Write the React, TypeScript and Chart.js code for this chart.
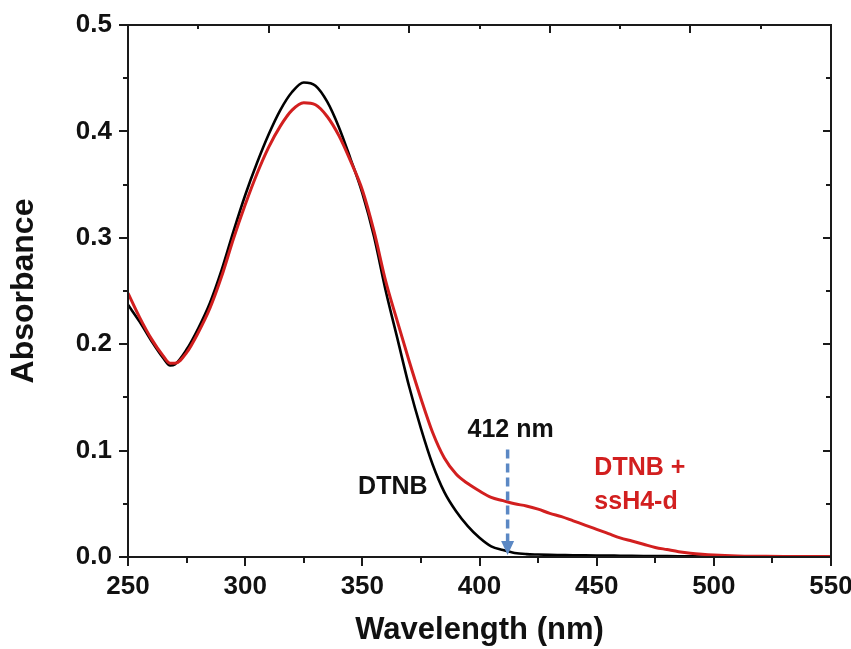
import React, { useEffect, useRef } from 'react';
import { Chart, registerables } from 'chart.js';

Chart.register(...registerables);

// ---- Data ----
const wavelengths = [
  250, 255, 260, 265, 268, 270, 275, 280, 285, 290, 295, 300, 305, 310, 315, 320, 325, 330, 335, 340,
  345, 350, 355, 360, 365, 370, 375, 380, 385, 390, 395, 400, 405, 410, 415, 420, 425, 430, 435, 440,
  445, 450, 455, 460, 465, 470, 475, 480, 485, 490, 495, 500, 510, 520, 530, 540, 550,
];

const dtnb = [
  0.237, 0.221, 0.203, 0.187, 0.180, 0.181, 0.195, 0.215, 0.239, 0.270, 0.306, 0.340, 0.370, 0.397, 0.420, 0.437, 0.446, 0.443, 0.428, 0.404,
  0.374, 0.342, 0.301, 0.250, 0.205, 0.160, 0.121, 0.087, 0.061, 0.043, 0.029, 0.018, 0.010, 0.0065, 0.0038, 0.0027, 0.0023, 0.0020, 0.0018, 0.0016,
  0.0015, 0.0014, 0.0013, 0.0012, 0.0011, 0.0010, 0.0009, 0.0008, 0.0007, 0.0006, 0.0005, 0.0005, 0.0004, 0.0004, 0.0003, 0.0003, 0.0003,
];

const dtnbSsh4d = [
  0.248, 0.225, 0.205, 0.189, 0.182, 0.182, 0.192, 0.211, 0.234, 0.264, 0.299, 0.331, 0.360, 0.385, 0.405, 0.420, 0.427, 0.425, 0.414, 0.396,
  0.372, 0.345, 0.306, 0.259, 0.221, 0.184, 0.149, 0.117, 0.093, 0.078, 0.069, 0.062, 0.056, 0.053, 0.050, 0.048, 0.045, 0.041, 0.038, 0.034,
  0.030, 0.026, 0.022, 0.018, 0.015, 0.012, 0.009, 0.007, 0.005, 0.0035, 0.0025, 0.0018, 0.0010, 0.0007, 0.0005, 0.0005, 0.0005,
];

const xMajorTicks = [250, 300, 350, 400, 450, 500, 550];
const xMinorTicks = [275, 325, 375, 425, 475, 525];
const topMajorTicks = [310, 370, 430, 490];
const topMinorTicks = [280, 340, 400, 460, 520];
const yMajorTicks = [0, 0.1, 0.2, 0.3, 0.4, 0.5];
const yMinorTicks = [0.05, 0.15, 0.25, 0.35, 0.45];

const markerWavelength = 412;
const markerTop = 0.101;
const markerLabel = '412 nm';

const labelDtnb = { text: 'DTNB', x: 363, y: 0.066 };
const labelMix1 = { text: 'DTNB +', x: 449, y: 0.084 };
const labelMix2 = { text: 'ssH4-d', x: 449, y: 0.052 };

const FONT = '"Liberation Sans", Arial, sans-serif';
const RED = '#d21f1f';
const BLUE = '#5b88c4';

const framePlugin = {
  id: 'frameAndNotes',
  afterDatasetsDraw(chart: any) {
    const { ctx, chartArea } = chart;
    const xs = chart.scales.x;
    const ys = chart.scales.y;
    const { left, right, top, bottom } = chartArea;
    ctx.save();
    ctx.strokeStyle = '#1a1a1a';
    ctx.lineWidth = 2;
    ctx.strokeRect(left, top, right - left, bottom - top);
    ctx.beginPath();
    // bottom ticks (outward)
    xMajorTicks.forEach((v) => { const p = Math.round(xs.getPixelForValue(v)); ctx.moveTo(p, bottom); ctx.lineTo(p, bottom + 9); });
    xMinorTicks.forEach((v) => { const p = Math.round(xs.getPixelForValue(v)); ctx.moveTo(p, bottom); ctx.lineTo(p, bottom + 6); });
    // top ticks (inward)
    topMajorTicks.forEach((v) => { const p = Math.round(xs.getPixelForValue(v)); ctx.moveTo(p, top); ctx.lineTo(p, top + 8); });
    topMinorTicks.forEach((v) => { const p = Math.round(xs.getPixelForValue(v)); ctx.moveTo(p, top); ctx.lineTo(p, top + 4); });
    // left ticks (outward)
    yMajorTicks.forEach((v) => { const p = Math.round(ys.getPixelForValue(v)); ctx.moveTo(left, p); ctx.lineTo(left - 9, p); });
    yMinorTicks.forEach((v) => { const p = Math.round(ys.getPixelForValue(v)); ctx.moveTo(left, p); ctx.lineTo(left - 5, p); });
    // right ticks (inward)
    yMajorTicks.forEach((v) => { const p = Math.round(ys.getPixelForValue(v)); ctx.moveTo(right, p); ctx.lineTo(right - 8, p); });
    yMinorTicks.forEach((v) => { const p = Math.round(ys.getPixelForValue(v)); ctx.moveTo(right, p); ctx.lineTo(right - 5, p); });
    ctx.stroke();

    // dashed marker arrow at 412 nm
    const ax = xs.getPixelForValue(markerWavelength);
    const aTop = ys.getPixelForValue(markerTop);
    const aTip = ys.getPixelForValue(0) - 2;
    ctx.strokeStyle = BLUE;
    ctx.fillStyle = BLUE;
    ctx.lineWidth = 3.5;
    ctx.setLineDash([9, 5]);
    ctx.beginPath();
    ctx.moveTo(ax, aTop);
    ctx.lineTo(ax, aTip - 12);
    ctx.stroke();
    ctx.setLineDash([]);
    ctx.beginPath();
    ctx.moveTo(ax - 6.5, aTip - 14);
    ctx.lineTo(ax + 6.5, aTip - 14);
    ctx.lineTo(ax, aTip);
    ctx.closePath();
    ctx.fill();

    // text notes
    ctx.font = `bold 25px ${FONT}`;
    ctx.textBaseline = 'middle';
    ctx.fillStyle = '#111';
    ctx.textAlign = 'center';
    ctx.fillText(markerLabel, xs.getPixelForValue(markerWavelength) + 3, ys.getPixelForValue(0.119));
    ctx.fillText(labelDtnb.text, xs.getPixelForValue(labelDtnb.x), ys.getPixelForValue(labelDtnb.y));
    ctx.fillStyle = RED;
    ctx.textAlign = 'left';
    ctx.fillText(labelMix1.text, xs.getPixelForValue(labelMix1.x), ys.getPixelForValue(labelMix1.y));
    ctx.fillText(labelMix2.text, xs.getPixelForValue(labelMix2.x), ys.getPixelForValue(labelMix2.y));
    ctx.restore();
  },
};

export default function App() {
  const ref = useRef<HTMLCanvasElement | null>(null);
  useEffect(() => {
    if (!ref.current) return;
    const chart = new Chart(ref.current, {
      type: 'line',
      data: {
        datasets: [
          {
            label: 'DTNB + ssH4-d',
            data: wavelengths.map((w, i) => ({ x: w, y: dtnbSsh4d[i] })),
            borderColor: RED,
            borderWidth: 3,
            pointRadius: 0,
            cubicInterpolationMode: 'monotone',
          },
          {
            label: 'DTNB',
            data: wavelengths.map((w, i) => ({ x: w, y: dtnb[i] })),
            borderColor: '#000',
            borderWidth: 2.6,
            pointRadius: 0,
            cubicInterpolationMode: 'monotone',
          },
        ],
      },
      options: {
        animation: false,
        responsive: false,
        devicePixelRatio: 1,
        layout: { padding: { left: 0, top: 25, right: 49, bottom: 0 } },
        plugins: { legend: { display: false }, tooltip: { enabled: false } },
        scales: {
          x: {
            type: 'linear',
            min: 250,
            max: 550,
            grid: { display: false, drawTicks: false },
            border: { display: false },
            afterBuildTicks: (s: any) => { s.ticks = xMajorTicks.map((v) => ({ value: v })); },
            afterFit: (s: any) => { s.height = 92; s.paddingLeft = 0; s.paddingRight = 0; },
            ticks: {
              color: '#111',
              font: { family: FONT, size: 26, weight: 'bold' },
              padding: 14,
              maxRotation: 0,
              autoSkip: false,
              callback: (v: any) => String(v),
            },
            title: {
              display: true,
              text: 'Wavelength (nm)',
              color: '#111',
              font: { family: FONT, size: 31, weight: 'bold' },
              padding: { top: 0, bottom: 0 },
            },
          },
          y: {
            type: 'linear',
            min: 0,
            max: 0.5,
            grid: { display: false, drawTicks: false },
            border: { display: false },
            afterBuildTicks: (s: any) => { s.ticks = yMajorTicks.map((v) => ({ value: v })); },
            afterFit: (s: any) => { s.width = 128; s.paddingTop = 0; s.paddingBottom = 0; },
            ticks: {
              color: '#111',
              font: { family: FONT, size: 26, weight: 'bold' },
              padding: 16,
              autoSkip: false,
              callback: (v: any) => Number(v).toFixed(1),
            },
            title: {
              display: true,
              text: 'Absorbance',
              color: '#111',
              font: { family: FONT, size: 32, weight: 'bold' },
              padding: { top: 5, bottom: 0 },
            },
          },
        },
      },
      plugins: [framePlugin],
    } as any);
    return () => chart.destroy();
  }, []);

  return (
    <div style={{ position: 'absolute', left: 0, top: 0, width: 851, height: 649, overflow: 'hidden', background: '#fff' }}>
      <canvas ref={ref} width={880} height={649} style={{ display: 'block', width: 880, height: 649 }} />
    </div>
  );
}
